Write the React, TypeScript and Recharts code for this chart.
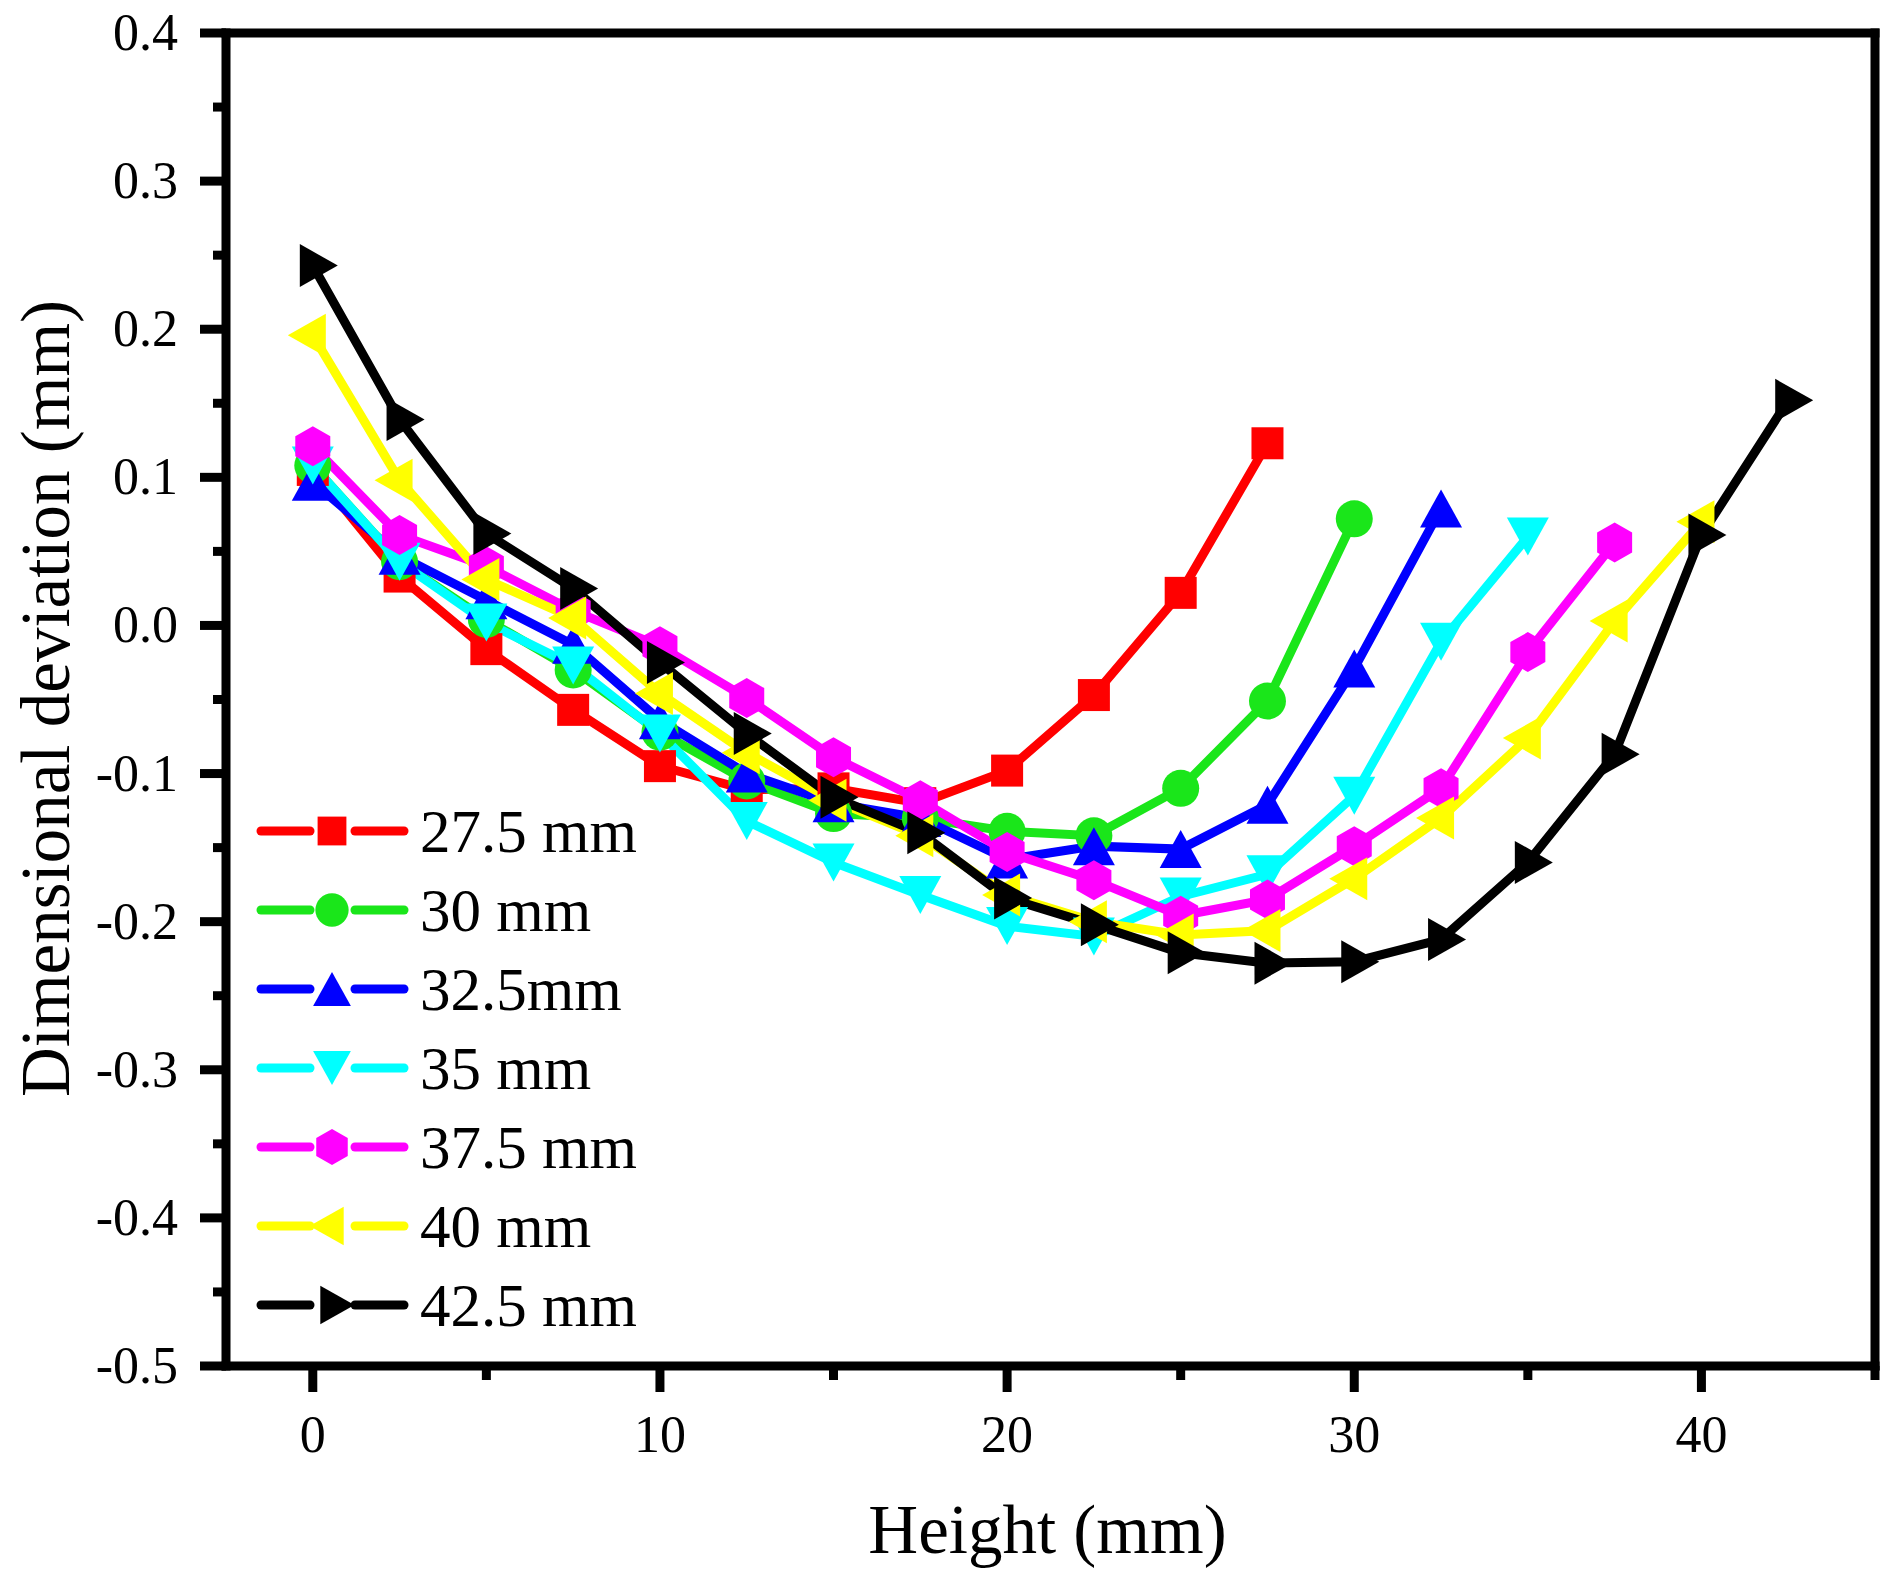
import React from 'react';
import { LineChart, Line, XAxis, YAxis, ReferenceLine, Legend } from 'recharts';

// heights (mm) at which the deviation was measured
const HEIGHTS = [0, 2.5, 5, 7.5, 10, 12.5, 15, 17.5, 20, 22.5, 25, 27.5, 30, 32.5, 35, 37.5, 40, 42.5];

// dimensional deviation (mm), one list per part height
const DEV_27_5 = [0.105, 0.033, -0.016, -0.057, -0.095, -0.111, -0.11, -0.12, -0.098, -0.047, 0.022, 0.123];
const DEV_30 = [0.108, 0.043, 0.004, -0.03, -0.072, -0.105, -0.127, -0.13, -0.139, -0.142, -0.11, -0.051, 0.072];
const DEV_32_5 = [0.097, 0.047, 0.017, -0.013, -0.064, -0.1, -0.12, -0.13, -0.158, -0.149, -0.151, -0.121, -0.029, 0.079];
const DEV_35 = [0.108, 0.043, 0.002, -0.027, -0.073, -0.132, -0.16, -0.182, -0.203, -0.21, -0.183, -0.168, -0.115, -0.011, 0.06];
const DEV_37_5 = [0.121, 0.061, 0.04, 0.01, -0.014, -0.049, -0.089, -0.118, -0.153, -0.172, -0.196, -0.185, -0.149, -0.11, -0.018, 0.056];
const DEV_40 = [0.196, 0.098, 0.031, 0.005, -0.046, -0.086, -0.118, -0.142, -0.182, -0.2, -0.209, -0.206, -0.171, -0.13, -0.076, 0.003, 0.07];
const DEV_42_5 = [0.243, 0.139, 0.062, 0.025, -0.025, -0.073, -0.116, -0.14, -0.184, -0.202, -0.221, -0.228, -0.227, -0.212, -0.16, -0.087, 0.061, 0.152];

const SERIES_NAMES = ['27.5 mm', '30 mm', '32.5mm', '35 mm', '37.5 mm', '40 mm', '42.5 mm'];

const X_TICKS = [0, 5, 10, 15, 20, 25, 30, 35, 40, 45];
const Y_TICKS = [-0.5, -0.45, -0.4, -0.35, -0.3, -0.25, -0.2, -0.15, -0.1, -0.05, 0, 0.05, 0.1, 0.15, 0.2, 0.25, 0.3, 0.35, 0.4];

const FONT = '"Liberation Serif", "Times New Roman", serif';

type Shape = 'square' | 'circle' | 'up' | 'down' | 'hex' | 'left' | 'right';

const STYLES: { color: string; shape: Shape }[] = [
  { color: '#FF0000', shape: 'square' },
  { color: '#1AE61A', shape: 'circle' },
  { color: '#0000FF', shape: 'up' },
  { color: '#00FFFF', shape: 'down' },
  { color: '#FF00FF', shape: 'hex' },
  { color: '#FFFF00', shape: 'left' },
  { color: '#000000', shape: 'right' },
];

const toRows = (vals: number[]) => vals.map((v, i) => ({ x: HEIGHTS[i], y: v }));

const SERIES = [DEV_27_5, DEV_30, DEV_32_5, DEV_35, DEV_37_5, DEV_40, DEV_42_5].map((vals, i) => ({
  name: SERIES_NAMES[i],
  data: toRows(vals),
  ...STYLES[i],
}));

const Marker = ({ cx, cy, shape, color, s = 1 }: { cx: number; cy: number; shape: Shape; color: string; s?: number }) => {
  if (cx == null || cy == null) return null;
  const pts = (arr: number[][]) => arr.map(([a, b]) => `${cx + a * s},${cy + b * s}`).join(' ');
  switch (shape) {
    case 'square':
      return <rect x={cx - 16 * s} y={cy - 16 * s} width={32 * s} height={32 * s} fill={color} />;
    case 'circle':
      return <circle cx={cx} cy={cy} r={18.5 * s} fill={color} />;
    case 'up':
      return <polygon points={pts([[0, -19], [21, 19], [-21, 19]])} fill={color} />;
    case 'down':
      return <polygon points={pts([[-21, -19], [21, -19], [0, 19]])} fill={color} />;
    case 'hex':
      return <polygon points={pts([[0, -20], [17.5, -10], [17.5, 10], [0, 20], [-17.5, 10], [-17.5, -10]])} fill={color} />;
    case 'left':
      return <polygon points={pts([[-25, 0], [13, -21.5], [13, 21.5]])} fill={color} />;
    case 'right':
    default:
      return <polygon points={pts([[25, 0], [-13, -21.5], [-13, 21.5]])} fill={color} />;
  }
};

const XTick = (props: any) => {
  const { x, y, payload } = props;
  const v = payload.value;
  const major = Math.abs(v % 10) < 1e-6;
  return (
    <g>
      <line x1={x} x2={x} y1={y} y2={y + (major ? 26 : 14)} stroke="#000" strokeWidth={9} />
      {major && (
        <text x={x} y={y + 86} textAnchor="middle" fontSize={52} fontFamily={FONT} fill="#000">
          {v}
        </text>
      )}
    </g>
  );
};

const YTick = (props: any) => {
  const { x, y, payload } = props;
  const v = payload.value;
  const major = Math.abs(v * 10 - Math.round(v * 10)) < 1e-6;
  return (
    <g>
      <line x1={x - (major ? 26 : 13)} x2={x} y1={y} y2={y} stroke="#000" strokeWidth={9} />
      {major && (
        <text x={x - 48} y={y + 17} textAnchor="end" fontSize={52} fontFamily={FONT} fill="#000">
          {v.toFixed(1)}
        </text>
      )}
    </g>
  );
};

const XTitle = (props: any) => {
  const vb = props.viewBox || { x: 226, y: 1366, width: 1649 };
  return (
    <text x={vb.x + vb.width / 2 - 3} y={vb.y + 187} textAnchor="middle" fontSize={69} fontFamily={FONT} fill="#000">
      Height (mm)
    </text>
  );
};

const YTitle = (props: any) => {
  const vb = props.viewBox || { x: 0, y: 33, height: 1333 };
  const cx = 46;
  const cy = vb.y + vb.height / 2 - 1;
  return (
    <text
      x={cx}
      y={cy}
      transform={`rotate(-90, ${cx}, ${cy})`}
      textAnchor="middle"
      dominantBaseline="central"
      fontSize={69}
      fontFamily={FONT}
      fill="#000"
    >
      Dimensional deviation (mm)
    </text>
  );
};

const LegendBox = () => (
  <svg width={440} height={570} style={{ display: 'block', overflow: 'visible' }}>
    {SERIES.map((s, i) => {
      const cy = 41 + i * 79;
      return (
        <g key={s.name}>
          <line x1={6} x2={55} y1={cy} y2={cy} stroke={s.color} strokeWidth={9} strokeLinecap="round" />
          <line x1={100} x2={149} y1={cy} y2={cy} stroke={s.color} strokeWidth={9} strokeLinecap="round" />
          <Marker cx={77} cy={cy} shape={s.shape} color={s.color} s={0.9} />
          <text x={165} y={cy + 21} fontSize={61} fontFamily={FONT} fill="#000">
            {s.name}
          </text>
        </g>
      );
    })}
  </svg>
);

export default function App() {
  return (
    <div style={{ position: 'absolute', left: 0, top: 0, width: 1888, height: 1586, background: '#fff' }}>
      <LineChart width={1888} height={1586} margin={{ top: 33, right: 13, bottom: 20, left: 0 }}>
        <XAxis
          dataKey="x"
          type="number"
          domain={[-2.5, 45]}
          ticks={X_TICKS}
          interval={0}
          tickSize={0}
          tickMargin={0}
          tickLine={false}
          tick={<XTick />}
          axisLine={{ stroke: '#000', strokeWidth: 9, strokeLinecap: 'square' }}
          height={200}
          allowDataOverflow
          label={<XTitle />}
        />
        <YAxis
          type="number"
          domain={[-0.5, 0.4]}
          ticks={Y_TICKS}
          interval={0}
          tickSize={0}
          tickMargin={0}
          tickLine={false}
          tick={<YTick />}
          axisLine={{ stroke: '#000', strokeWidth: 9, strokeLinecap: 'square' }}
          width={226}
          allowDataOverflow
          label={<YTitle />}
        />
        <ReferenceLine y={0.4} stroke="#000" strokeWidth={9} strokeLinecap="square" />
        <ReferenceLine x={45} stroke="#000" strokeWidth={9} strokeLinecap="square" />
        {SERIES.map((s) => (
          <Line
            key={s.name}
            name={s.name}
            data={s.data}
            dataKey="y"
            type="linear"
            stroke={s.color}
            strokeWidth={9}
            isAnimationActive={false}
            activeDot={false}
            dot={(p: any) => <Marker key={`${s.name}-${p.index}`} cx={p.cx} cy={p.cy} shape={s.shape} color={s.color} />}
          />
        ))}
        <Legend
          layout="vertical"
          align="center"
          verticalAlign="middle"
          content={<LegendBox />}
          wrapperStyle={{ left: 255, top: 790, width: 440, height: 570 }}
        />
      </LineChart>
    </div>
  );
}
